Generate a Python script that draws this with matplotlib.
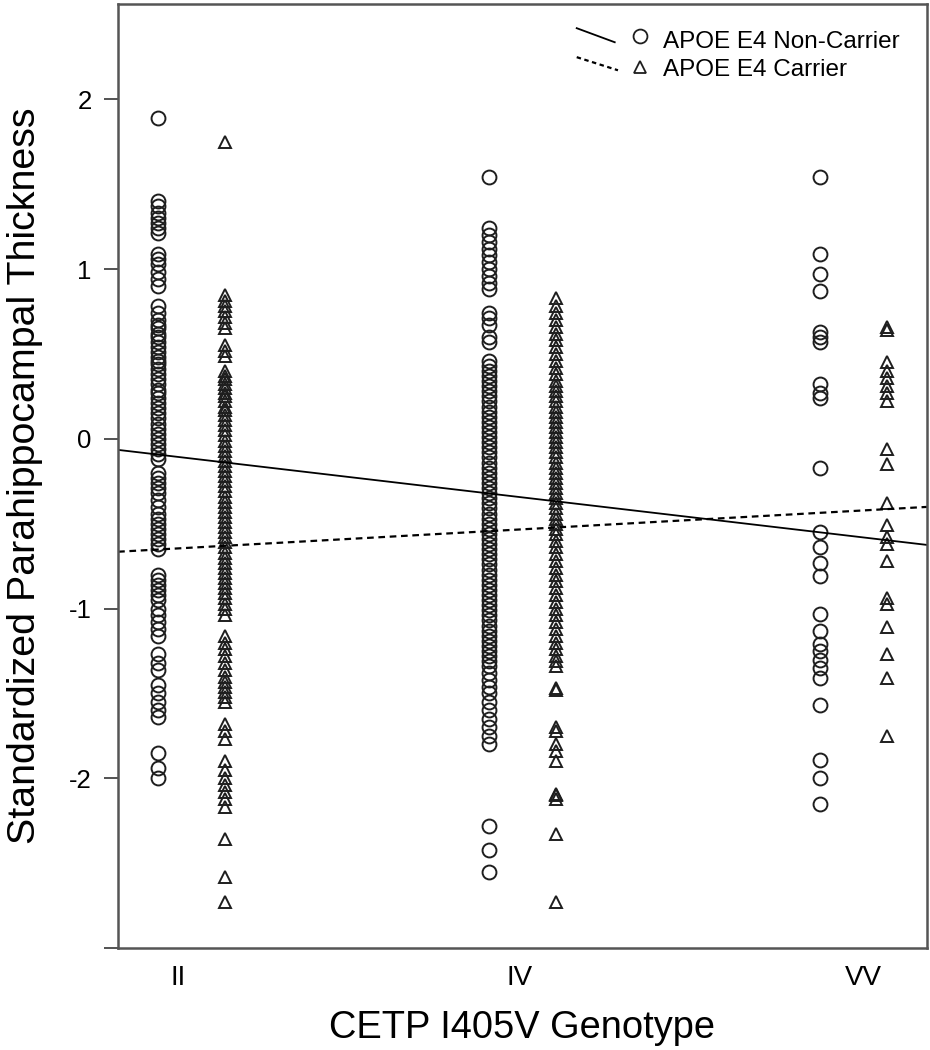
import matplotlib
matplotlib.use("Agg")
import matplotlib.pyplot as plt
from matplotlib.lines import Line2D
import numpy as np

plt.rcParams['font.family'] = ['Liberation Sans', 'DejaVu Sans']

genotypes = ['II', 'IV', 'VV']
genotype_label_pos = [-0.04, 0.99, 2.03]

# APOE E4 non-carriers (circles)
ii_non = [1.89,
          1.40, 1.37, 1.33, 1.30, 1.27, 1.24, 1.21, 1.09, 1.06, 1.03, 0.98, 0.94, 0.90,
          0.78, 0.74, 0.70, 0.67, 0.65, 0.62, 0.60, 0.57, 0.54, 0.51, 0.48, 0.46, 0.44,
          0.41, 0.38, 0.35, 0.32, 0.29, 0.27, 0.24, 0.21, 0.18, 0.15, 0.12, 0.09, 0.06,
          0.03, 0.00, -0.03, -0.06, -0.09, -0.12,
          -0.20, -0.23, -0.26, -0.29, -0.32, -0.36, -0.40, -0.44, -0.47, -0.50, -0.53,
          -0.56, -0.59, -0.62, -0.65,
          -0.80, -0.83, -0.86, -0.89, -0.92, -0.95, -1.00, -1.04, -1.08, -1.12, -1.16,
          -1.27, -1.32, -1.36,
          -1.45, -1.50, -1.55, -1.60, -1.64,
          -1.85, -1.94, -2.00]
iv_non = [1.54,
          1.24, 1.20, 1.16, 1.12, 1.08, 1.04, 1.00, 0.96, 0.92, 0.88,
          0.74, 0.71, 0.67, 0.60, 0.57,
          0.46, 0.43, 0.40, 0.37, 0.34, 0.31, 0.28, 0.25, 0.22, 0.19, 0.16, 0.13, 0.10,
          0.07, 0.04, 0.01, -0.02, -0.05, -0.08, -0.11, -0.14, -0.17, -0.20, -0.23,
          -0.26, -0.29, -0.32, -0.35, -0.38, -0.41, -0.44, -0.47, -0.50, -0.53, -0.56,
          -0.59, -0.62, -0.65, -0.68, -0.71, -0.74, -0.77, -0.80, -0.83, -0.86, -0.89,
          -0.92, -0.95, -0.98, -1.01, -1.04, -1.07, -1.10, -1.13, -1.16, -1.19, -1.22,
          -1.25, -1.28, -1.31, -1.34, -1.38, -1.42, -1.46, -1.50, -1.55, -1.60, -1.65,
          -1.70, -1.75, -1.80,
          -2.28, -2.42, -2.55]
vv_non = [1.54, 1.09, 0.97, 0.87, 0.63, 0.60, 0.57, 0.32, 0.27, 0.24, -0.17,
          -0.55, -0.64, -0.73, -0.81, -1.03, -1.13, -1.21, -1.25, -1.30, -1.35,
          -1.41, -1.57, -1.89, -2.00, -2.15]

# APOE E4 carriers (triangles)
ii_car = [1.75,
          0.85, 0.81, 0.78, 0.75, 0.72, 0.68, 0.65, 0.55, 0.52, 0.49,
          0.40, 0.37, 0.35, 0.32, 0.30, 0.27, 0.25, 0.22, 0.19, 0.17, 0.14, 0.11, 0.08,
          0.05, 0.02, -0.01, -0.04, -0.07, -0.10, -0.13, -0.16, -0.19, -0.22, -0.25,
          -0.28, -0.31, -0.34, -0.37, -0.40, -0.43, -0.46, -0.49, -0.52, -0.55, -0.58,
          -0.61, -0.64, -0.67, -0.70, -0.73, -0.76, -0.79, -0.82, -0.85, -0.88, -0.91,
          -0.94, -0.97, -1.00, -1.04,
          -1.16, -1.20, -1.24, -1.28, -1.32, -1.36, -1.40, -1.43, -1.46, -1.49, -1.52,
          -1.55,
          -1.68, -1.72, -1.77,
          -1.90, -1.95, -2.00, -2.04, -2.08, -2.12, -2.17,
          -2.36, -2.58, -2.73]
iv_car = [0.83, 0.78, 0.74, 0.70, 0.66, 0.62, 0.58, 0.54, 0.50, 0.46, 0.42, 0.38,
          0.34, 0.31, 0.28, 0.25, 0.22, 0.19, 0.16, 0.13, 0.10, 0.07, 0.04, 0.01,
          -0.02, -0.05, -0.08, -0.11, -0.14, -0.17, -0.20, -0.23, -0.26, -0.29, -0.32,
          -0.35, -0.38, -0.41, -0.44, -0.47, -0.50, -0.53, -0.56, -0.60, -0.64, -0.68,
          -0.72, -0.76, -0.80, -0.84, -0.88, -0.92, -0.96, -1.00, -1.04, -1.08, -1.12,
          -1.16, -1.20, -1.24, -1.28, -1.31, -1.34,
          -1.47, -1.48,
          -1.70, -1.72, -1.80, -1.84, -1.90,
          -2.09, -2.10, -2.12,
          -2.33, -2.73]
vv_car = [0.66, 0.64, 0.45, 0.40, 0.36, 0.31, 0.27, 0.22, -0.06, -0.15, -0.38,
          -0.51, -0.58, -0.62, -0.72, -0.94, -0.97, -1.11, -1.27, -1.41, -1.75]

# fitted lines (intercept at II, slope per genotype step)
non_carrier_fit = (-0.116, -0.229)
carrier_fit = (-0.641, 0.108)

offset = 0.1
xlim = (-0.222, 2.222)

fig = plt.figure(figsize=(9.3, 10.5), dpi=100)
ax = fig.add_axes([0.127, 0.097, 0.8697, 0.899])

edge = '#1e1e1e'
for g, vals in enumerate([ii_non, iv_non, vv_non]):
    ax.plot(np.full(len(vals), g - offset), vals, linestyle='none', marker='o',
            markersize=10, markerfacecolor='none', markeredgecolor=edge,
            markeredgewidth=1.4)
for g, vals in enumerate([ii_car, iv_car, vv_car]):
    ax.plot(np.full(len(vals), g + offset), vals, linestyle='none', marker='^',
            markersize=8.5, markerfacecolor='none', markeredgecolor=edge,
            markeredgewidth=1.4)

xs = np.array(xlim)
ax.plot(xs, non_carrier_fit[0] + non_carrier_fit[1] * xs, color='black', lw=1.3)
ax.plot(xs, carrier_fit[0] + carrier_fit[1] * xs, color='black', lw=1.6,
        dashes=(3.0, 2.1))

ax.set_xlim(*xlim)
ax.set_ylim(-3.0, 2.56)
ax.set_yticks([-3, -2, -1, 0, 1, 2])
ax.set_yticklabels(['', '-2', '-1', '0', '1', '2'], fontsize=18.5)
ax.set_xticks(genotype_label_pos)
ax.set_xticklabels(genotypes, fontsize=20)
ax.tick_params(axis='x', length=0, pad=12)
ax.tick_params(axis='y', length=10, width=1.3, color='#444444', pad=9)
for s in ax.spines.values():
    s.set_color('#555555')
    s.set_linewidth(1.8)

fig.text(0.027, 0.547, 'Standardized Parahippocampal Thickness', rotation=90,
         ha='center', va='center', fontsize=28.4)
fig.text(0.5618, 0.011, 'CETP I405V Genotype', ha='center', va='baseline',
         fontsize=27.4)

# legend drawn by hand so the line keys slope like the original
tr = ax.transAxes
ax.add_line(Line2D([0.567, 0.614], [0.9746, 0.9597], color='black', lw=1.3,
                   transform=tr))
ax.plot([0.645], [0.966], marker='o', markersize=10, markerfacecolor='none',
        markeredgecolor=edge, markeredgewidth=1.3, transform=tr)
ax.text(0.674, 0.954, 'APOE E4 Non-Carrier', transform=tr, fontsize=17.5,
        va='baseline')
ax.add_line(Line2D([0.567, 0.618], [0.9439, 0.930], color='black', lw=1.6,
                   dashes=(2.0, 1.6), transform=tr))
ax.plot([0.645], [0.934], marker='^', markersize=8.5, markerfacecolor='none',
        markeredgecolor=edge, markeredgewidth=1.3, transform=tr)
ax.text(0.674, 0.9237, 'APOE E4 Carrier', transform=tr, fontsize=17.5,
        va='baseline')

fig.savefig('out.png', dpi=100)
